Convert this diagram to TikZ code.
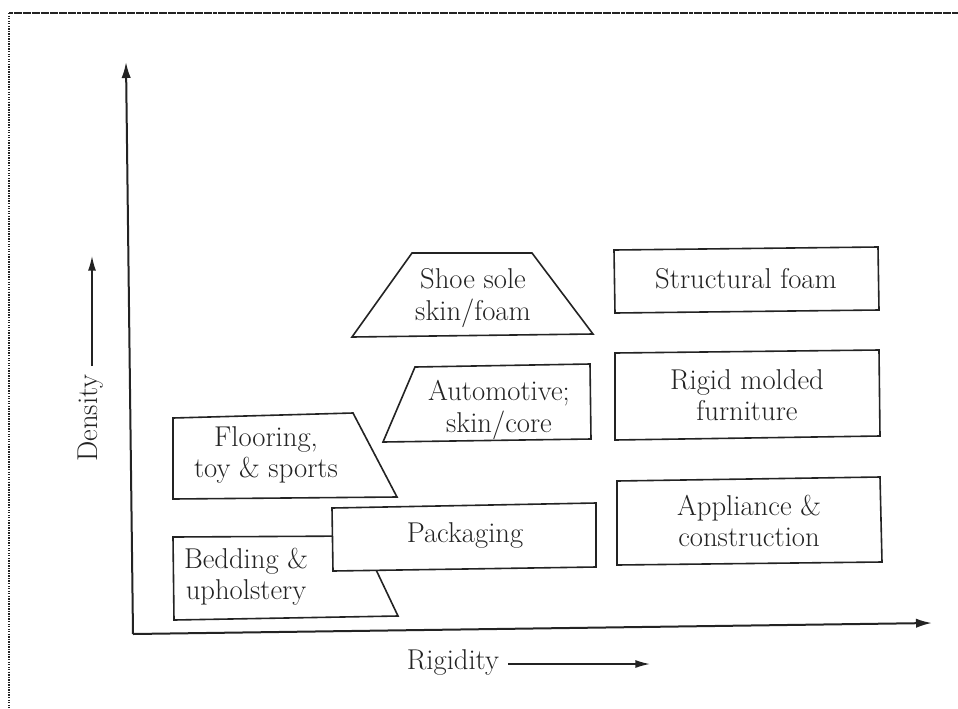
\documentclass[tikz,border=0pt]{standalone}
\usetikzlibrary{arrows.meta}
\definecolor{ink}{RGB}{35,35,35}
\begin{document}
\begin{tikzpicture}[x=0.75pt,y=-0.75pt,line join=miter,
  box/.style={draw=ink,line width=1.2pt,fill=white},
  lbl/.style={text=ink,font=\fontsize{21.5}{23.5}\selectfont,align=center,inner sep=0pt},
  axis/.style={draw=ink,line width=1.5pt,-{Latex[length=12pt,width=7pt]}},
  arr/.style={draw=ink,line width=1.1pt,-{Latex[length=11pt,width=6pt]}}]
\useasboundingbox (0,0) rectangle (958,708);
% frame
\draw[ink,line width=1.1pt,dash pattern=on 1pt off 0.9pt] (9,13) -- (9,708);
\draw[ink,line width=1pt,dash pattern=on 3pt off 0.4pt] (9,13) -- (958,13);
% axes
\coordinate (O) at (133,634);
\coordinate (Ytip) at (126,62);
\coordinate (Xtip) at (932,623);
\draw[axis] (O) -- (Ytip);
\draw[axis] (O) -- (Xtip);
% axis labels
\node[lbl,rotate=90] (dens) at (91,418) {Density};
\coordinate (d0) at (92,366);
\coordinate (d1) at (92,256);
\draw[arr] (d0) -- (d1);
\node[lbl] (rig) at (453,662) {Rigidity};
\coordinate (r0) at (508,664);
\coordinate (r1) at (650,664);
\draw[arr] (r0) -- (r1);
% flooring
\draw[box] (173,418) -- (353,413) -- (397,497) -- (173,499) -- cycle;
\node[lbl] (floor) at (266,455) {Flooring,\\toy \& sports};
% bedding
\draw[box] (173,537) -- (360,536) -- (398,616) -- (174,620) -- cycle;
\node[lbl] (bed) at (246,577) {Bedding \&\\upholstery};
% packaging
\draw[box] (332,508) -- (596,503) -- (596,567) -- (333,571) -- cycle;
\node[lbl] (pack) at (465,535) {Packaging};
% shoe sole
\draw[box] (412,253) -- (532,253) -- (593,334) -- (352,337) -- cycle;
\node[lbl] (shoe) at (473,298) {Shoe sole\\skin/foam};
% automotive
\draw[box] (415,367) -- (590,364) -- (591,439) -- (383,442) -- cycle;
\node[lbl] (auto) at (499,410) {Automotive;\\skin/core};
% structural foam
\draw[box] (614,250) -- (878,247) -- (879,310) -- (615,313) -- cycle;
\node[lbl] (struct) at (746,279) {Structural foam};
% rigid molded furniture
\draw[box] (615,353) -- (879,350) -- (880,436) -- (615,440) -- cycle;
\node[lbl] (rigid) at (747,395) {Rigid molded\\furniture};
% appliance
\draw[box] (617,481) -- (880,477) -- (882,562) -- (617,565) -- cycle;
\node[lbl] (appl) at (749,521) {Appliance \&\\construction};
\end{tikzpicture}
\end{document}
